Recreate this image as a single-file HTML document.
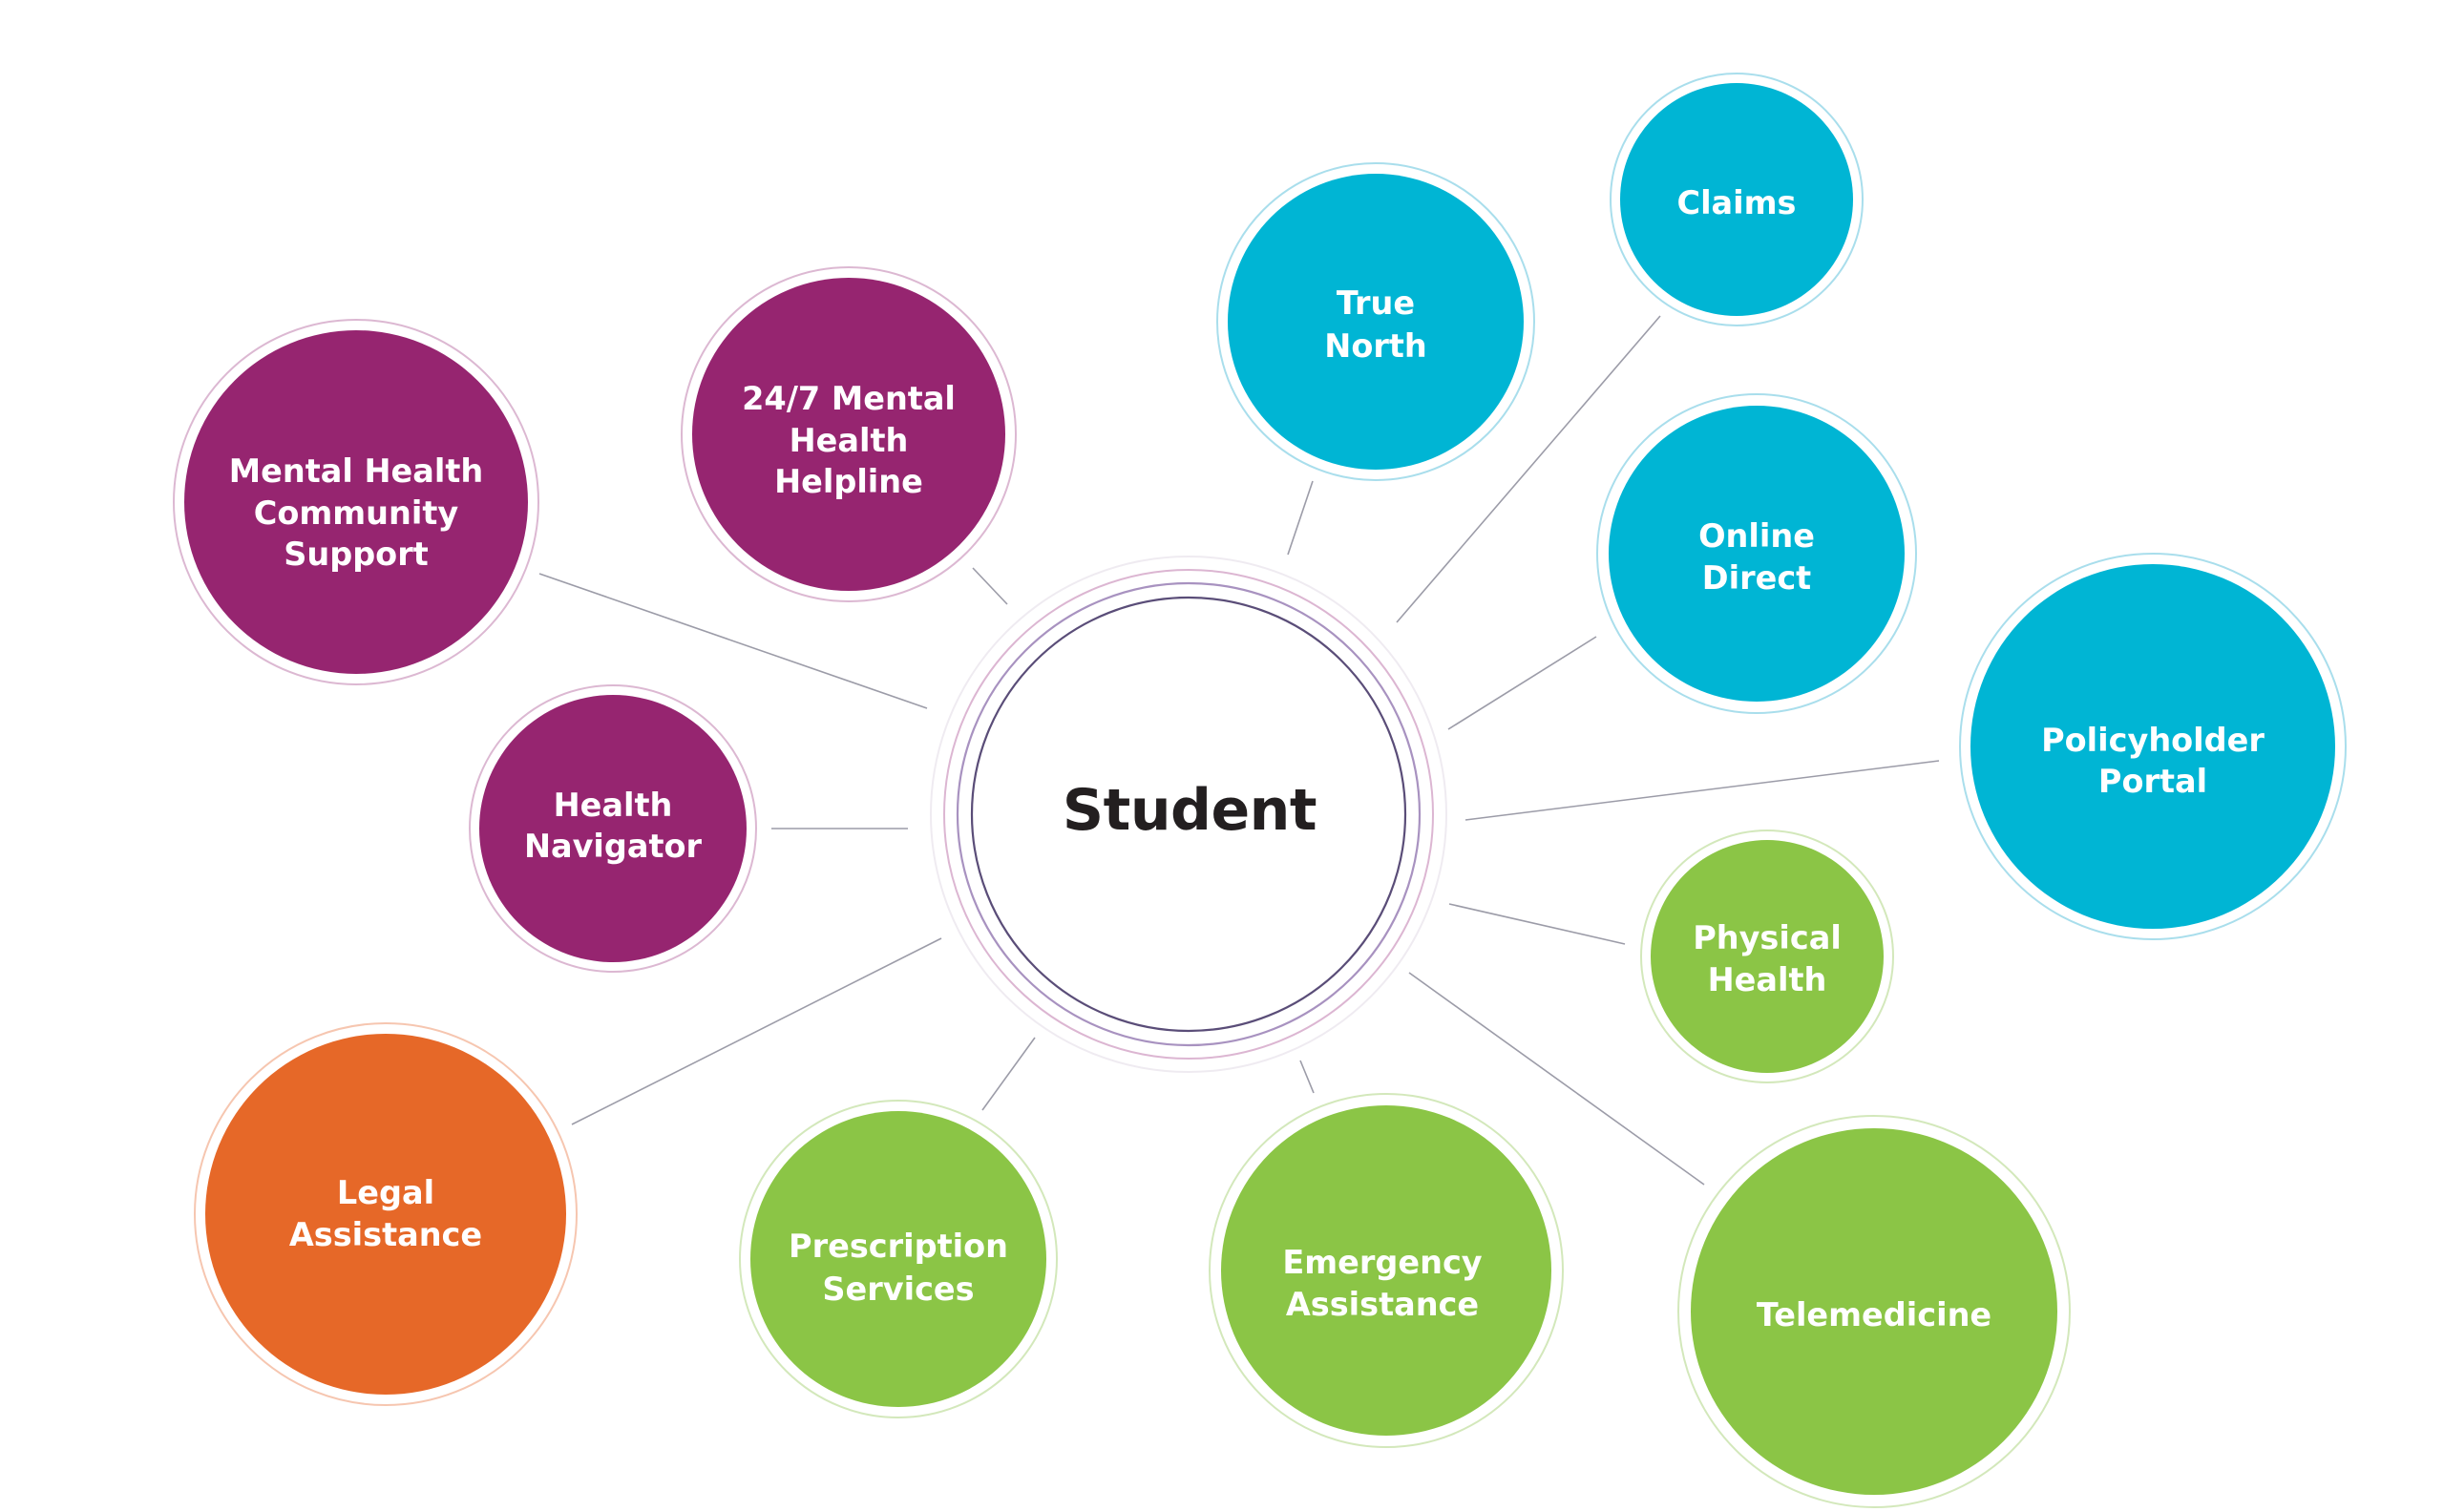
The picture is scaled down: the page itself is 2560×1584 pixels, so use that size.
<!DOCTYPE html>
<html>
<head>
<meta charset="utf-8">
<style>
  html,body{margin:0;padding:0;background:#ffffff;}
  svg{display:block;}
  .t{font-family:"DejaVu Sans","Liberation Sans",sans-serif;font-weight:bold;font-size:33.5px;letter-spacing:0px;fill:#ffffff;text-anchor:middle;}
  .s{font-family:"DejaVu Sans","Liberation Sans",sans-serif;font-weight:bold;font-size:60px;letter-spacing:-0.5px;fill:#231f20;text-anchor:middle;}
  .ln{stroke:#9c9ca8;stroke-width:1.6;fill:none;}
</style>
</head>
<body>
<svg width="2560" height="1584" viewBox="0 0 2560 1584" xmlns="http://www.w3.org/2000/svg">
  <rect width="2560" height="1584" fill="#ffffff"/>

  <!-- connectors -->
  <line class="ln" x1="565" y1="601" x2="971" y2="742"/>
  <line class="ln" x1="1019" y1="595" x2="1055" y2="633"/>
  <line class="ln" x1="1375" y1="504" x2="1349" y2="581"/>
  <line class="ln" x1="1739" y1="331" x2="1463" y2="652"/>
  <line class="ln" x1="1672" y1="667" x2="1517" y2="764"/>
  <line class="ln" x1="2031" y1="797" x2="1535" y2="859"/>
  <line class="ln" x1="1518" y1="947" x2="1702" y2="989"/>
  <line class="ln" x1="1476" y1="1019" x2="1785" y2="1241"/>
  <line class="ln" x1="1362" y1="1111" x2="1376" y2="1145"/>
  <line class="ln" x1="1084" y1="1087" x2="1029" y2="1163"/>
  <line class="ln" x1="599" y1="1178" x2="986" y2="983"/>
  <line class="ln" x1="808" y1="868" x2="951" y2="868"/>

  <!-- Student center -->
  <circle cx="1245" cy="853" r="270" fill="#ffffff" stroke="#efebf1" stroke-width="2"/>
  <circle cx="1245" cy="853" r="256" fill="none" stroke="#dcb6d2" stroke-width="2"/>
  <circle cx="1245" cy="853" r="242" fill="none" stroke="#a892c0" stroke-width="2.2"/>
  <circle cx="1245" cy="853" r="227" fill="#ffffff" stroke="#5a4d78" stroke-width="2.2"/>
  <text class="s" x="1246" y="869">Student</text>

  <!-- Purple nodes -->
  <circle cx="373" cy="526" r="191" fill="#ffffff" stroke="#dcb8d2" stroke-width="2"/>
  <circle cx="373" cy="526" r="180" fill="#962570"/>
  <text class="t" x="373" y="505">Mental Health</text>
  <text class="t" x="373" y="549">Community</text>
  <text class="t" x="373" y="592">Support</text>

  <circle cx="889" cy="455" r="175" fill="#ffffff" stroke="#dcb8d2" stroke-width="2"/>
  <circle cx="889" cy="455" r="164" fill="#962570"/>
  <text class="t" x="889" y="429">24/7 Mental</text>
  <text class="t" x="889" y="473">Health</text>
  <text class="t" x="889" y="516">Helpline</text>

  <circle cx="642" cy="868" r="150" fill="#ffffff" stroke="#dcb8d2" stroke-width="2"/>
  <circle cx="642" cy="868" r="140" fill="#962570"/>
  <text class="t" x="642" y="855">Health</text>
  <text class="t" x="642" y="898">Navigator</text>

  <!-- Orange node -->
  <circle cx="404" cy="1272" r="200" fill="#ffffff" stroke="#f6c6b0" stroke-width="2"/>
  <circle cx="404" cy="1272" r="189" fill="#e66828"/>
  <text class="t" x="404" y="1261">Legal</text>
  <text class="t" x="404" y="1305">Assistance</text>

  <!-- Green nodes -->
  <circle cx="941" cy="1319" r="166" fill="#ffffff" stroke="#d3e8bb" stroke-width="2"/>
  <circle cx="941" cy="1319" r="155" fill="#8bc546"/>
  <text class="t" x="941" y="1317">Prescription</text>
  <text class="t" x="941" y="1362">Services</text>

  <circle cx="1452" cy="1331" r="185" fill="#ffffff" stroke="#d3e8bb" stroke-width="2"/>
  <circle cx="1452" cy="1331" r="173" fill="#8bc546"/>
  <text class="t" x="1448" y="1334">Emergency</text>
  <text class="t" x="1448" y="1378">Assistance</text>

  <circle cx="1963" cy="1374" r="205" fill="#ffffff" stroke="#d3e8bb" stroke-width="2"/>
  <circle cx="1963" cy="1374" r="192" fill="#8bc546"/>
  <text class="t" x="1963" y="1389">Telemedicine</text>

  <circle cx="1851" cy="1002" r="132" fill="#ffffff" stroke="#d3e8bb" stroke-width="2"/>
  <circle cx="1851" cy="1002" r="122" fill="#8bc546"/>
  <text class="t" x="1851" y="994">Physical</text>
  <text class="t" x="1851" y="1038">Health</text>

  <!-- Cyan nodes -->
  <circle cx="2255" cy="782" r="202" fill="#ffffff" stroke="#a9deec" stroke-width="2"/>
  <circle cx="2255" cy="782" r="191" fill="#00b5d4"/>
  <text class="t" x="2255" y="787">Policyholder</text>
  <text class="t" x="2255" y="830">Portal</text>

  <circle cx="1840" cy="580" r="167" fill="#ffffff" stroke="#a9deec" stroke-width="2"/>
  <circle cx="1840" cy="580" r="155" fill="#00b5d4"/>
  <text class="t" x="1840" y="573">Online</text>
  <text class="t" x="1840" y="617">Direct</text>

  <circle cx="1819" cy="209" r="132" fill="#ffffff" stroke="#a9deec" stroke-width="2"/>
  <circle cx="1819" cy="209" r="122" fill="#00b5d4"/>
  <text class="t" x="1819" y="224">Claims</text>

  <circle cx="1441" cy="337" r="166" fill="#ffffff" stroke="#a9deec" stroke-width="2"/>
  <circle cx="1441" cy="337" r="155" fill="#00b5d4"/>
  <text class="t" x="1441" y="329">True</text>
  <text class="t" x="1441" y="374">North</text>
</svg>
</body>
</html>
